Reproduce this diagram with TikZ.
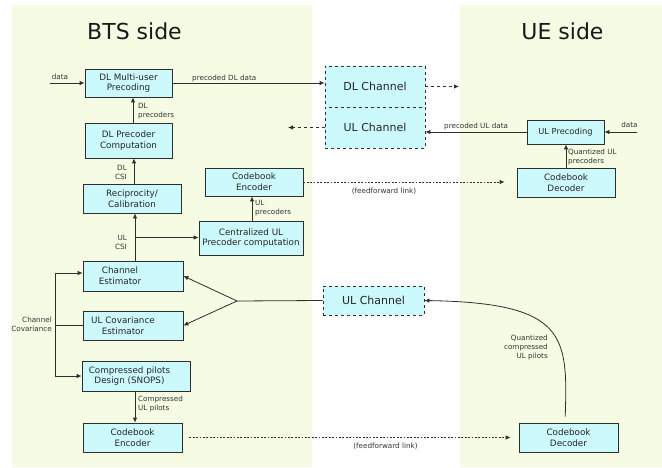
\documentclass[tikz,border=0pt]{standalone}
\usepackage{fontspec}
\setmainfont{DejaVu Sans}
\usetikzlibrary{arrows.meta}
\definecolor{panel}{HTML}{F6FCE4}
\definecolor{boxfill}{HTML}{CCF9FC}
\definecolor{ln}{HTML}{2E2E2E}
\begin{document}
\begin{tikzpicture}[x=1pt,y=-1pt,
  box/.style={draw=ln, fill=boxfill, line width=0.8pt, inner sep=0pt, align=center,
              font=\fontsize{8.8}{10.8}\selectfont, text=black!85},
  chan/.style={box, dashed, font=\fontsize{11}{13}\selectfont},
  lbl/.style={font=\fontsize{7.2}{9}\selectfont, text=black!80, inner sep=0pt},
  title/.style={font=\fontsize{22}{26}\selectfont, text=black!90, inner sep=0pt, anchor=base},
  conn/.style={draw=ln, line width=0.8pt},
  arr/.style={conn, -{Latex[length=5pt,width=4.5pt]}},
  ff/.style={arr, dash pattern=on 1.8pt off 1.6pt}
]
\useasboundingbox (0,0) rectangle (662,468);
% panels
\fill[panel] (12,5) rectangle (312,467);
\fill[panel] (460,5) rectangle (662,467);
% titles
\node[title] (tbts) at (134.5,39.3) {BTS side};
\node[title] (tue) at (562.5,39.3) {UE side};

% BTS boxes
\node[box, minimum width=87pt, minimum height=28pt] (dlmu) at (128.5,83) {DL Multi-user\\Precoding};
\node[box, minimum width=87pt, minimum height=35pt] (dlpc) at (128.5,140.5) {DL Precoder\\Computation};
\node[box, minimum width=98pt, minimum height=29pt] (recip) at (132,198.5) {Reciprocity/\\Calibration};
\node[box, minimum width=98pt, minimum height=28pt] (cbe1) at (254,182) {Codebook\\Encoder};
\node[box, minimum width=104pt, minimum height=34pt] (cul) at (251,238) {Centralized UL\\Precoder computation};
\node[box, minimum width=100pt, minimum height=30pt] (chest) at (133,276) {};
\node[box, draw=none, fill=none] (chestt) at (120,276) {Channel\\Estimator};
\node[box, minimum width=100pt, minimum height=29pt] (ulcov) at (133,325.5) {};
\node[box, draw=none, fill=none] (ulcovt) at (123,325.5) {UL Covariance\\Estimator};
\node[box, minimum width=108pt, minimum height=30pt] (cpd) at (136,376) {};
\node[box, draw=none, fill=none] (cpdt) at (129.5,376) {Compressed pilots\\Design (SNOPS)};
\node[box, minimum width=99pt, minimum height=29pt] (cbe2) at (132.5,437.5) {Codebook\\Encoder};

% channels
\node[chan, minimum width=100pt, minimum height=41pt] (dlch) at (375,86.5) {DL Channel};
\node[chan, minimum width=100pt, minimum height=41pt] (ulch) at (375,127.5) {UL Channel};
\node[chan, minimum width=101pt, minimum height=29pt] (ulch2) at (373.5,300.5) {UL Channel};

% UE boxes
\node[box, minimum width=77pt, minimum height=24pt, font=\fontsize{8.3}{10}\selectfont] (ulp) at (565.5,132) {UL Precoding};
\node[box, minimum width=98pt, minimum height=29pt] (cbd1) at (566,182.5) {Codebook\\Decoder};
\node[box, minimum width=99pt, minimum height=29pt] (cbd2) at (568.5,437.5) {Codebook\\Decoder};

% free ends
\coordinate (din1) at (50,83);
\coordinate (din2) at (637,132);
\coordinate (dlo) at (459,86.5);
\coordinate (ulo) at (288,127.5);
\coordinate (br) at (135,237.5);
\coordinate (jn) at (237,301);
\coordinate (cvtop) at (55,273);
\coordinate (cvbot) at (55,376);

% top DL path
\draw[arr] (din1) -- (dlmu.west);
\node[lbl] (ldata1) at (60,76.5) {data};
\draw[arr] (dlmu.east) -- (dlmu.east -| dlch.west);
\node[lbl, anchor=west] (lpdl) at (192,78.5) {precoded DL data};
\draw[arr, dashed] (dlch.east) -- (dlo);
\draw[arr, dashed] (ulch.west) -- (ulo);

% UE UL precoding
\draw[arr] (ulp.west) -- (ulp.west -| ulch.east);
\node[lbl, anchor=west] (lpul) at (444,126.5) {precoded UL data};
\draw[arr] (din2) -- (ulp.east);
\node[lbl] (ldata2) at (629.5,125) {data};
\draw[arr] (cbd1.north) -- (cbd1.north |- ulp.south);
\node[lbl, anchor=west, align=left] (lqul) at (568,157.5) {Quantized UL\\precoders};

% BTS vertical chain
\draw[arr] ([xshift=4.5pt]dlpc.north) -- ([xshift=4.5pt]dlmu.south);
\node[lbl, anchor=west, align=left] (ldlp) at (138,111.5) {DL\\precoders};
\draw[arr] ([xshift=2pt]recip.north) -- ([xshift=5.5pt]dlpc.south);
\node[lbl, anchor=east, align=right] (ldlcsi) at (127,172) {DL\\CSI};
\draw[arr] ([xshift=2pt]chest.north) -- ([xshift=3pt]recip.south);
\node[lbl, anchor=east, align=right] (lulcsi) at (127,242.5) {UL\\CSI};
\draw[arr] (br) -- (br -| cul.west);
\draw[arr] ([xshift=1pt]cul.north) -- ([xshift=-2pt]cbe1.south);
\node[lbl, anchor=west, align=left] (lulp) at (255,208) {UL\\precoders};

% feedforward links
\draw[ff, shorten >=12pt] (cbe1.east) -- (cbe1.east -| cbd1.west);
\node[lbl] (lff1) at (384,191) {(feedforward link)};
\draw[ff, shorten <=7pt, shorten >=8pt] (cbe2.east) -- (cbd2.west);
\node[lbl] (lff2) at (385.5,446) {(feedforward link)};

% UL channel fan-out
\draw[conn] (ulch2.west) -- (jn);
\draw[arr] (jn) -- (chest.east);
\draw[arr] (jn) -- (ulcov.east);

% channel covariance
\draw[conn] (cvtop) -- (cvbot);
\draw[conn] (ulcov.west) -- (ulcov.west -| cvtop);
\draw[arr] (cvtop) -- (cvtop -| chest.west);
\draw[arr] (cvbot) -- (cpd.west);
\node[lbl, anchor=east, align=right] (lcc) at (52,324.5) {Channel\\Covariance};

% compressed pilots
\draw[arr] ([xshift=-1pt]cpd.south) -- ([xshift=2.5pt]cbe2.north);
\node[lbl, anchor=west, align=left] (lcp) at (138,404.5) {Compressed\\UL pilots};

% curved return
\draw[arr, shorten <=6pt] ([xshift=-3.5pt]cbd2.north) .. controls (568,335) and (566,303) .. (ulch2.east);
\node[lbl, anchor=east, align=right] (lqc) at (548,348) {Quantized\\compressed\\UL pilots};
\end{tikzpicture}
\end{document}
